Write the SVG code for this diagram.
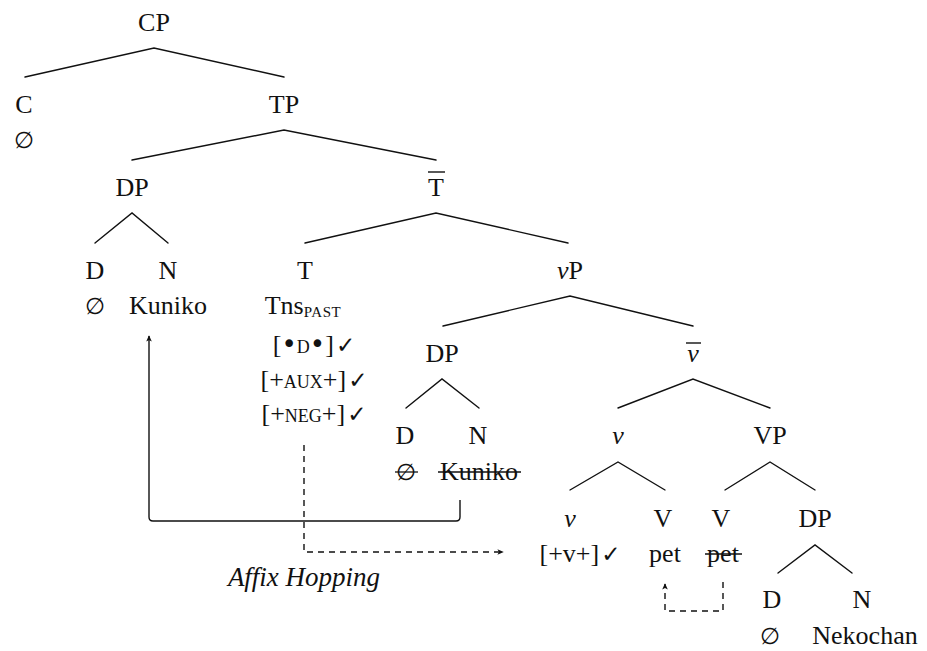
<svg xmlns="http://www.w3.org/2000/svg" width="927" height="651" viewBox="0 0 927 651">
  <style>
    text { font-family: "Liberation Serif", "DejaVu Serif", serif; font-size: 26px; fill: #111; text-anchor: middle; }
    .it { font-style: italic; }
    .sc { font-size: 18px; }
    .sub { font-size: 15px; letter-spacing: 0.6px; }
    .bul { font-family: "DejaVu Sans", sans-serif; font-size: 26px; }
    .chk { font-family: "DejaVu Sans", sans-serif; font-size: 23px; }
    .nul { font-family: "DejaVu Serif", serif; font-size: 23px; }
    .edge { stroke: #111; stroke-width: 1.4; fill: none; stroke-linecap: round; }
    .bar { stroke: #111; stroke-width: 1.4; }
    .strike { stroke: #111; stroke-width: 1.3; }
    .move { stroke: #111; stroke-width: 1.4; fill: none; }
    .dash { stroke-dasharray: 6 5; }
  </style>
  <defs>
    <marker id="tip" viewBox="0 0 10 10" refX="8" refY="5" markerWidth="8" markerHeight="8" markerUnits="userSpaceOnUse" orient="auto">
      <path d="M1,1.5 L9,5 L1,8.5 L3,5 Z" fill="#111"/>
    </marker>
  </defs>

  <!-- tree branches -->
  <g id="connectors">
    <path class="edge" d="M25,77 L154,48 L284,77"/>
    <path class="edge" d="M132,160 L284,130 L436,160"/>
    <path class="edge" d="M95,243 L132,213 L168,243"/>
    <path class="edge" d="M305,243 L436,213 L568,243"/>
    <path class="edge" d="M443,326 L570,296 L693,326"/>
    <path class="edge" d="M406,408 L442,379 L479,408"/>
    <path class="edge" d="M618,408 L693,379 L770,408"/>
    <path class="edge" d="M570,490 L618,462 L665,490"/>
    <path class="edge" d="M725,490 L770,462 L815,490"/>
    <path class="edge" d="M778,573 L815,545 L852,573"/>
  </g>

  <!-- movement arrows -->
  <g id="movement">
    <path class="move" d="M460,500 V517 Q460,521 456,521 H153 Q149,521 149,517 V336" marker-end="url(#tip)"/>
    <path class="move dash" d="M304,445 V552 H503" marker-end="url(#tip)"/>
    <path class="move dash" d="M723,582 V611 H665 V584" marker-end="url(#tip)"/>
    <text id="affix-hopping" class="it" x="304" y="586" style="font-size:27px">Affix Hopping</text>
  </g>

  <g id="CP"><text x="154" y="31">CP</text></g>
  <g id="C"><text x="24" y="113">C</text><text class="nul" x="24" y="148">∅</text></g>
  <g id="TP"><text x="284" y="113">TP</text></g>
  <g id="DP-subj"><text x="132" y="196">DP</text></g>
  <g id="Tbar"><text x="436" y="196">T</text><line class="bar" x1="428" y1="172" x2="445" y2="172"/></g>
  <g id="D-subj"><text x="95" y="279">D</text><text class="nul" x="95" y="314">∅</text></g>
  <g id="N-subj"><text x="168" y="279">N</text><text x="168" y="314">Kuniko</text></g>
  <g id="T">
    <text x="305" y="279">T</text>
    <text x="303" y="314">Tns<tspan class="sub" dy="3">PAST</tspan></text>
    <text x="314" y="353">[<tspan class="bul">•</tspan><tspan class="sc">D</tspan><tspan class="bul">•</tspan>]<tspan class="chk" dx="2">✓</tspan></text>
    <text x="314" y="388">[+<tspan class="sc">AUX</tspan>+]<tspan class="chk" dx="2">✓</tspan></text>
    <text x="314" y="422">[+<tspan class="sc">NEG</tspan>+]<tspan class="chk" dx="2">✓</tspan></text>
  </g>
  <g id="vP"><text x="570" y="279"><tspan class="it">v</tspan>P</text></g>
  <g id="DP-copy"><text x="442" y="362">DP</text></g>
  <g id="vbar"><text class="it" x="693" y="362">v</text><line class="bar" x1="686" y1="343" x2="701" y2="343"/></g>
  <g id="D-copy"><text x="405" y="444">D</text><text class="nul" x="406" y="480">∅</text><line class="strike" x1="395" y1="472" x2="418" y2="472"/></g>
  <g id="N-copy"><text x="478" y="444">N</text><text x="479" y="480">Kuniko</text><line class="strike" x1="438" y1="472" x2="521" y2="472"/></g>
  <g id="v-bar-head"><text class="it" x="618" y="444">v</text></g>
  <g id="VP"><text x="770" y="444">VP</text></g>
  <g id="v-head"><text class="it" x="570" y="527">v</text><text x="580" y="562">[+v+]<tspan class="chk" dx="2">✓</tspan></text></g>
  <g id="V-moved"><text x="663" y="527">V</text><text x="665" y="562">pet</text></g>
  <g id="V-copy"><text x="721" y="527">V</text><text x="723" y="562">pet</text><line class="strike" x1="705" y1="554" x2="742" y2="554"/></g>
  <g id="DP-obj"><text x="815" y="527">DP</text></g>
  <g id="D-obj"><text x="772" y="608">D</text><text class="nul" x="770" y="644">∅</text></g>
  <g id="N-obj"><text x="862" y="608">N</text><text x="865" y="644">Nekochan</text></g>
</svg>
